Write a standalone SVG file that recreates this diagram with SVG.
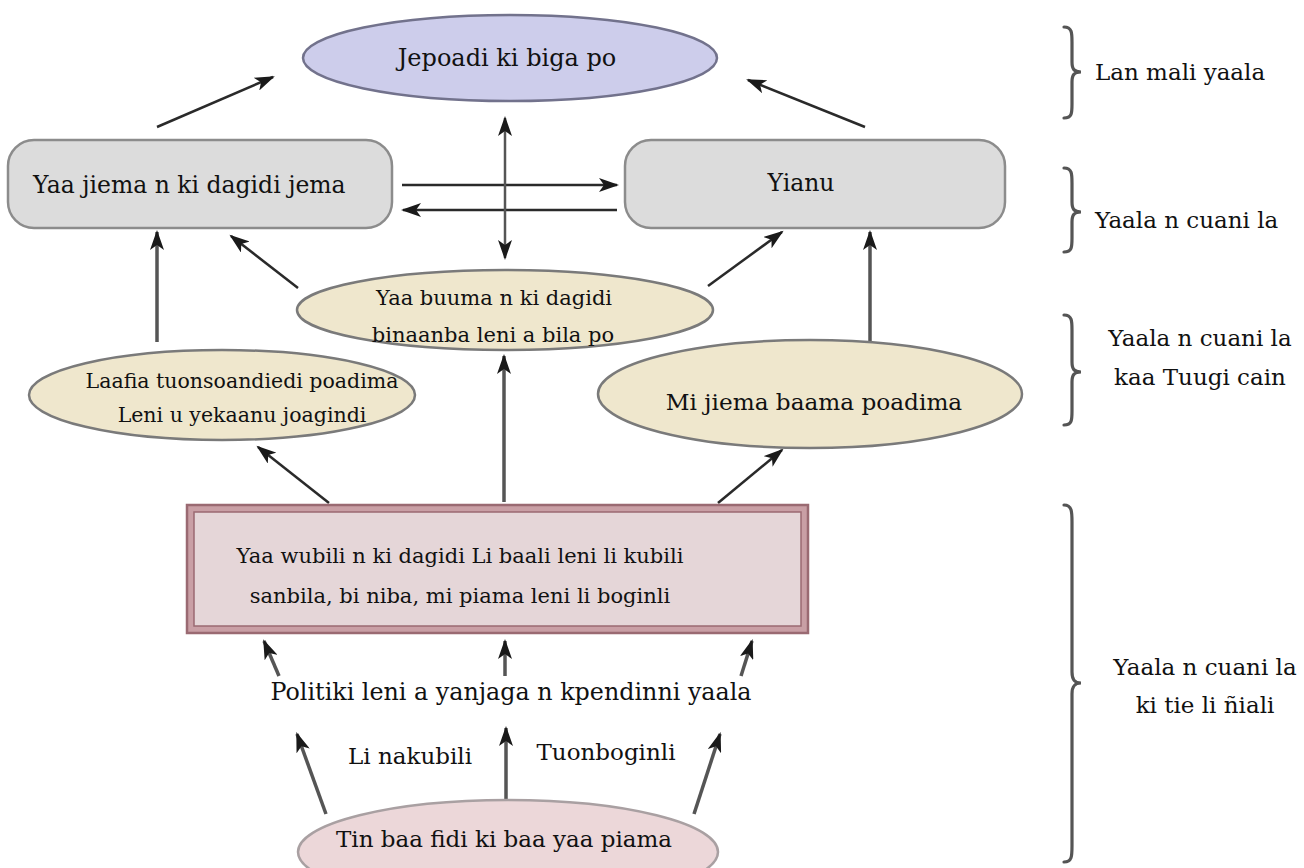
<svg xmlns="http://www.w3.org/2000/svg" width="1304" height="868" viewBox="0 0 1304 868">
<defs>
<marker id="ah" markerUnits="userSpaceOnUse" markerWidth="22" markerHeight="14" refX="18" refY="7" orient="auto-start-reverse">
<path d="M0,0 L20,7 L0,14 L5,7 Z" fill="#1a1a1a"/>
</marker>
<style>
.t{font-family:"DejaVu Serif","Liberation Serif",serif;fill:#111;}
.c{stroke:#2a2a2a;stroke-width:2.5;fill:none;marker-end:url(#ah);}
.cv{stroke:#555;stroke-width:3.5;fill:none;marker-end:url(#ah);}
.gray{fill:#dcdcdc;stroke:#8c8c8c;stroke-width:2.5;}
.beige{fill:#efe7cd;stroke:#7a7a7a;stroke-width:2.5;}
.brace{fill:none;stroke:#555;stroke-width:3.2;stroke-linecap:round;}
</style>
</defs>
<rect width="1304" height="868" fill="#ffffff"/>

<g id="connectors">
<line class="c" x1="157" y1="127" x2="273" y2="77"/>
<line class="c" x1="865" y1="127" x2="748" y2="80"/>
<line class="c" x1="402" y1="185" x2="617" y2="185"/>
<line class="c" x1="617" y1="210" x2="403" y2="210"/>
<line class="cv" x1="505" y1="118" x2="505" y2="258" style="marker-start:url(#ah);stroke-width:2.5"/>
<line class="cv" x1="157" y1="342" x2="157" y2="232"/>
<line class="c" x1="298" y1="288" x2="231" y2="236"/>
<line class="c" x1="708" y1="286" x2="782" y2="232"/>
<line class="cv" x1="870" y1="344" x2="870" y2="232"/>
<line class="c" x1="329" y1="503" x2="258" y2="447"/>
<line class="cv" x1="504" y1="502" x2="504" y2="356"/>
<line class="c" x1="718" y1="503" x2="782" y2="450"/>
<line class="cv" x1="279" y1="676" x2="264" y2="641"/>
<line class="cv" x1="505" y1="676" x2="505" y2="641"/>
<line class="cv" x1="741" y1="676" x2="752" y2="641"/>
<line class="cv" x1="326" y1="814" x2="297" y2="734"/>
<line class="cv" x1="506" y1="806" x2="506" y2="728"/>
<line class="cv" x1="694" y1="814" x2="720" y2="734"/>
</g>

<g id="n-top">
<ellipse cx="510" cy="58" rx="207" ry="43" fill="#cdcdeb" stroke="#72728c" stroke-width="2.5"/>
<text class="t" x="507" y="66" font-size="24" text-anchor="middle">Jepoadi ki biga po</text>
</g>

<g id="n-left-rect">
<rect class="gray" x="8" y="140" width="384" height="88" rx="26"/>
<text class="t" x="33" y="193" font-size="23.5">Yaa jiema n ki dagidi jema</text>
</g>

<g id="n-right-rect">
<rect class="gray" x="625" y="140" width="380" height="88" rx="26"/>
<text class="t" x="801" y="191" font-size="23.5" text-anchor="middle">Yianu</text>
</g>

<g id="n-mid-ellipse">
<ellipse class="beige" cx="505" cy="310" rx="208" ry="40"/>
<text class="t" x="494" y="305" font-size="21" text-anchor="middle">Yaa buuma n ki dagidi</text>
<text class="t" x="493" y="342" font-size="21" text-anchor="middle">binaanba leni a bila po</text>
</g>

<g id="n-left-ellipse">
<ellipse class="beige" cx="222" cy="395" rx="193" ry="45"/>
<text class="t" x="242" y="388" font-size="20.5" text-anchor="middle">Laafia tuonsoandiedi poadima</text>
<text class="t" x="242" y="422" font-size="20.5" text-anchor="middle">Leni u yekaanu joagindi</text>
</g>

<g id="n-right-ellipse">
<ellipse class="beige" cx="810" cy="394" rx="212" ry="54"/>
<text class="t" x="814" y="410" font-size="23.2" text-anchor="middle">Mi jiema baama poadima</text>
</g>

<g id="n-bottom-rect">
<rect x="187" y="505" width="621" height="128" fill="#c99fa5" stroke="#9a6a72" stroke-width="2.5"/>
<rect x="194" y="512" width="607" height="114" fill="#e5d6d8" stroke="#9a6a72" stroke-width="1.5"/>
<text class="t" x="460" y="563" font-size="21" text-anchor="middle">Yaa wubili n ki dagidi Li baali leni li kubili</text>
<text class="t" x="460" y="603" font-size="21" text-anchor="middle">sanbila, bi niba, mi piama leni li boginli</text>
</g>

<g id="n-politiki">
<text class="t" x="511" y="700" font-size="23.8" text-anchor="middle">Politiki leni a yanjaga n kpendinni yaala</text>
</g>

<g id="n-labels">
<text class="t" x="410" y="764" font-size="23" text-anchor="middle">Li nakubili</text>
<text class="t" x="606" y="760" font-size="23" text-anchor="middle">Tuonboginli</text>
</g>

<g id="n-bottom-ellipse">
<ellipse cx="508" cy="852" rx="210" ry="52" fill="#ecd7d9" stroke="#a9a0a2" stroke-width="2.5"/>
<text class="t" x="504" y="847" font-size="23" text-anchor="middle">Tin baa fidi ki baa yaa piama</text>
</g>

<g id="braces">
<path class="brace" d="M1064,27 C1072,27 1072,33 1072,42 L1072,62 C1072,69 1074,72 1081,72 C1074,72 1072,75 1072,82 L1072,104 C1072,113 1072,118 1064,118"/>
<path class="brace" d="M1064,168 C1072,168 1072,174 1072,183 L1072,202 C1072,209 1074,212 1081,212 C1074,212 1072,215 1072,222 L1072,238 C1072,247 1072,252 1064,252"/>
<path class="brace" d="M1064,315 C1072,315 1072,321 1072,330 L1072,362 C1072,369 1074,372 1081,372 C1074,372 1072,375 1072,382 L1072,411 C1072,420 1072,425 1064,425"/>
<path class="brace" d="M1064,505 C1072,505 1072,512 1072,522 L1072,672 C1072,679 1074,683 1081,683 C1074,683 1072,687 1072,694 L1072,846 C1072,856 1072,862 1064,862"/>
</g>

<g id="brace-labels">
<text class="t" x="1095" y="80" font-size="23">Lan mali yaala</text>
<text class="t" x="1095" y="228" font-size="23">Yaala n cuani la</text>
<text class="t" x="1200" y="346" font-size="23" text-anchor="middle">Yaala n cuani la</text>
<text class="t" x="1200" y="385" font-size="23" text-anchor="middle">kaa Tuugi cain</text>
<text class="t" x="1205" y="675" font-size="23" text-anchor="middle">Yaala n cuani la</text>
<text class="t" x="1205" y="713" font-size="23" text-anchor="middle">ki tie li ñiali</text>
</g>
</svg>
